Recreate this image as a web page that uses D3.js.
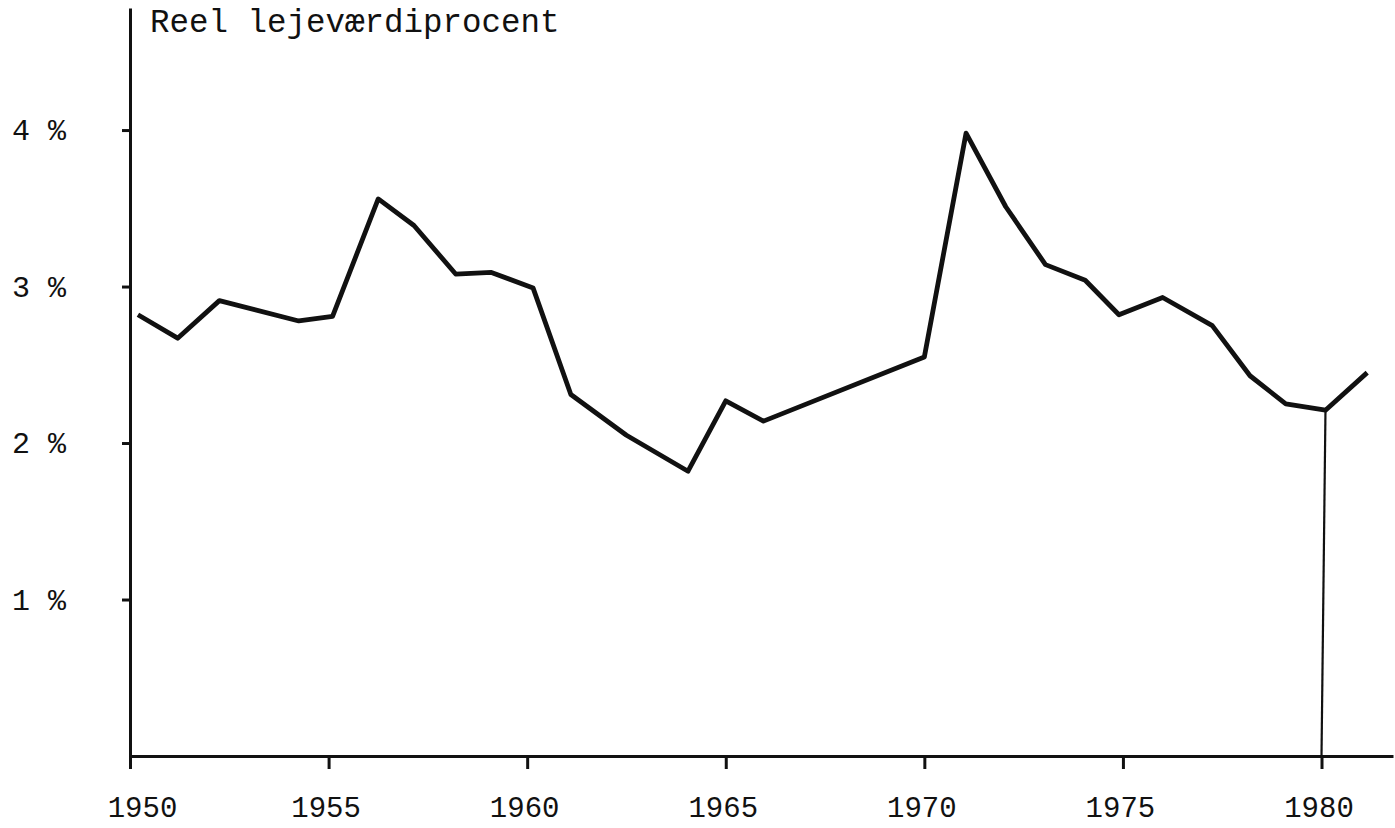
<!DOCTYPE html>
<html>
<head>
<meta charset="utf-8">
<script src="https://cdn.jsdelivr.net/npm/d3@7"></script>
<style>
  body { margin: 0; background: #fff; }
  svg { display: block; }
  text { font-family: "Liberation Mono", "DejaVu Sans Mono", monospace; fill: #111; }
</style>
</head>
<body>
<svg id="chart"></svg>
<script>
// x positions (years) and values (%)
const xYear = [1950.2, 1951.2, 1952.25, 1954.25, 1955.1, 1956.25, 1957.15, 1958.2, 1959.1,
  1960.15, 1961.1, 1962.5, 1964.05, 1965.0, 1965.95, 1970.0, 1971.05, 1972.05, 1973.05,
  1974.05, 1974.9, 1976.0, 1977.25, 1978.2, 1979.1, 1980.1, 1981.15];
const rate = [2.82, 2.67, 2.91, 2.78, 2.81, 3.56, 3.39, 3.08, 3.09,
  2.99, 2.31, 2.05, 1.82, 2.27, 2.14, 2.55, 3.98, 3.51, 3.14,
  3.04, 2.82, 2.93, 2.75, 2.43, 2.25, 2.21, 2.45];

const yearTicks = [1950, 1955, 1960, 1965, 1970, 1975, 1980];
const pctTicks = [1, 2, 3, 4];
const title = "Reel lejeværdiprocent";
const markerIdx = 25; // the 1980 point has a drop line to the axis

const width = 1395, height = 828;
const svg = d3.select('#chart')
  .attr('width', width)
  .attr('height', height);

const x = d3.scaleLinear().domain([1950, 1981.8]).range([130, 1393]);
const y = d3.scaleLinear().domain([0, 4.78]).range([756, 8]);

// x axis
const gx = svg.append('g')
  .attr('transform', `translate(0,${y(0)})`)
  .call(d3.axisBottom(x).tickValues(yearTicks).tickSize(13).tickSizeOuter(0).tickFormat(d3.format('d')));
gx.select('.domain').attr('stroke', '#111').attr('stroke-width', 3);
gx.selectAll('.tick line').attr('stroke', '#111').attr('stroke-width', 3);
gx.selectAll('.tick text')
  .attr('y', 61).attr('dy', 0)
  .attr('dx', d => d === 1950 ? 12 : -3)
  .attr('font-size', 29)
  .attr('font-family', null);

// y axis
const gy = svg.append('g')
  .attr('transform', `translate(${x(1950)},0)`)
  .call(d3.axisLeft(y).tickValues(pctTicks).tickSize(8).tickSizeOuter(0).tickPadding(56)
    .tickFormat(d => d + ' %'));
gy.select('.domain').attr('stroke', '#111').attr('stroke-width', 3);
gy.selectAll('.tick line').attr('stroke', '#111').attr('stroke-width', 3);
gy.selectAll('.tick text')
  .attr('font-size', 30)
  .attr('font-family', null);

// title
svg.append('text')
  .attr('x', x(1950) + 20)
  .attr('y', 32)
  .attr('font-size', 32.5)
  .text(title);

// the series
const data = xYear.map((d, i) => ({ year: d, v: rate[i] }));
const line = d3.line().x(d => x(d.year)).y(d => y(d.v));

svg.append('path')
  .datum(data)
  .attr('d', line)
  .attr('fill', 'none')
  .attr('stroke', '#111')
  .attr('stroke-width', 4.8)
  .attr('stroke-linejoin', 'round');

// drop line at 1980
svg.append('line')
  .attr('x1', x(data[markerIdx].year))
  .attr('y1', y(data[markerIdx].v))
  .attr('x2', x(1980))
  .attr('y2', y(0))
  .attr('stroke', '#111')
  .attr('stroke-width', 2.2);
</script>
</body>
</html>
